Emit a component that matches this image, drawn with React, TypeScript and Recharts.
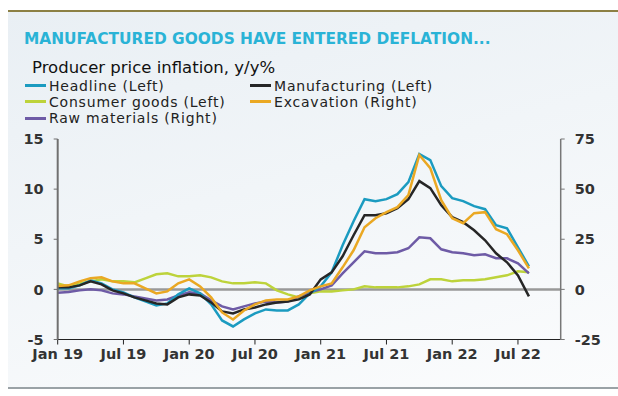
import { LineChart, Line, XAxis, YAxis, ReferenceLine } from 'recharts'

// China PPI, monthly Jan 2019 - Aug 2022
const tickLabels = ['Jan 19', 'Jul 19', 'Jan 20', 'Jul 20', 'Jan 21', 'Jul 21', 'Jan 22', 'Jul 22']
const leftTicks = [-5, 0, 5, 10, 15]
const rightTicks = [-25, 0, 25, 50, 75]

const headline = [
  0.1, 0.1, 0.4, 0.9, 0.6, 0.0, -0.3, -0.8, -1.2, -1.6, -1.4, -0.5,
  0.1, -0.4, -1.5, -3.1, -3.7, -3.0, -2.4, -2.0, -2.1, -2.1, -1.5, -0.4,
  0.3, 1.7, 4.4, 6.8, 9.0, 8.8, 9.0, 9.5, 10.7, 13.5, 12.9, 10.3,
  9.1, 8.8, 8.3, 8.0, 6.4, 6.1, 4.2, 2.3,
]
const manufacturing = [
  0.2, 0.2, 0.4, 0.8, 0.5, -0.1, -0.4, -0.8, -1.1, -1.4, -1.5, -0.8,
  -0.5, -0.6, -1.3, -2.2, -2.4, -2.0, -1.8, -1.5, -1.3, -1.2, -1.0, -0.5,
  1.0, 1.7, 3.3, 5.4, 7.4, 7.4, 7.6, 8.1, 9.0, 10.8, 10.1, 8.4,
  7.2, 6.7, 5.9, 4.9, 3.6, 2.7, 1.4, -0.7,
]
const consumerGoods = [
  0.6, 0.3, 0.6, 0.8, 1.0, 0.8, 0.8, 0.7, 1.1, 1.5, 1.6, 1.3,
  1.3, 1.4, 1.2, 0.8, 0.6, 0.6, 0.7, 0.6, -0.1, -0.5, -0.8, -0.4,
  -0.2, -0.2, -0.1, 0.0, 0.3, 0.2, 0.2, 0.2, 0.3, 0.5, 1.0, 1.0,
  0.8, 0.9, 0.9, 1.0, 1.2, 1.4, 1.8, 1.7,
]
const excavation = [
  1.7, 2, 4, 5.5, 6, 4, 3, 3, 0.5, -2, -1, 3,
  5, 1.5, -4, -11.5, -15, -10.5, -7.5, -5.5, -5, -5, -3.5, -0.5,
  1.5, 3, 11, 19.5, 31, 35.5, 38.5, 41, 47, 67, 60.5, 44.5,
  35.5, 33, 38, 38.5, 30, 27.5, 19.5, 10.5,
]
const rawMaterials = [
  -1.7, -1.3, -0.5, 0, -0.5, -2, -2.5, -3.5, -4.5, -5.5, -5, -3,
  -1.5, -2, -5.5, -8.5, -10, -8.5, -7, -6, -6.5, -6, -3.5, -1.5,
  0, 2, 8, 13.5, 19, 18, 18, 18.5, 20.5, 26, 25.5, 20,
  18.5, 18, 17, 17.5, 15.5, 15.5, 13, 8,
]

const series = [
  { key: 'headline', name: 'Headline (Left)', color: '#1b9bc0', axis: 'left', values: headline },
  { key: 'manufacturing', name: 'Manufacturing (Left)', color: '#262626', axis: 'left', values: manufacturing },
  { key: 'consumer', name: 'Consumer goods (Left)', color: '#bdd33b', axis: 'left', values: consumerGoods },
  { key: 'excavation', name: 'Excavation (Right)', color: '#eaa823', axis: 'right', values: excavation },
  { key: 'raw', name: 'Raw materials (Right)', color: '#6e5ba6', axis: 'right', values: rawMaterials },
]
const drawOrder = ['consumer', 'raw', 'headline', 'manufacturing', 'excavation']

const data = headline.map((_, i) => {
  const row: Record<string, number> = { i }
  series.forEach(s => { row[s.key] = s.values[i] })
  return row
})

const font = 'DejaVu Sans'
const tickStyle = { fontFamily: font, fontSize: 14.5, fontWeight: 700, fill: '#333' }

export default function App() {
  return (
    <div style={{ position: 'absolute', left: 0, top: 0, width: 618, height: 396, background: '#fff', overflow: 'hidden', fontFamily: font }}>
      <div style={{
        position: 'absolute', left: 8, top: 10, width: 610, height: 375,
        background: 'linear-gradient(165deg, #e9eff4 0%, #f1f5f8 45%, #fbfcfd 100%)',
        borderTop: '2px solid #8c8044', borderBottom: '2px solid #9aa2a6',
      }} />

      <svg width={618} height={80} style={{ position: 'absolute', left: 0, top: 0 }}>
        <text x={24} y={43.5} fontFamily={font} fontSize={15.4} fontWeight={700} fill="#2ab3d6">
          MANUFACTURED GOODS HAVE ENTERED DEFLATION...
        </text>
        <text x={32} y={73} fontFamily={font} fontSize={16.5} fill="#111">
          Producer price inflation, y/y%
        </text>
      </svg>

      {/* legend: two columns, tight rows like the original */}
      {series.map((s, idx) => {
        const col = idx % 2
        const row = Math.floor(idx / 2)
        return (
          <div
            key={s.key}
            style={{
              position: 'absolute', left: col === 0 ? 25 : 250, top: 77.5 + row * 16.3,
              height: 16.3, lineHeight: '16.3px', fontSize: 14, letterSpacing: 0.8,
              color: '#222', whiteSpace: 'nowrap',
            }}
          >
            <span style={{
              display: 'inline-block', width: 21, height: 3, background: s.color,
              verticalAlign: 'middle', marginRight: 3, position: 'relative', top: -1,
            }} />
            {s.name}
          </div>
        )
      })}

      <div style={{ position: 'absolute', left: 0, top: 0 }}>
        <LineChart width={618} height={396} data={data} margin={{ top: 139, right: 0, bottom: 26.5, left: 0 }}>
          <XAxis
            dataKey="i" type="number" domain={[0, 45.9]} ticks={[0, 6, 12, 18, 24, 30, 36, 42]}
            tickFormatter={v => tickLabels[v / 6]} interval={0} height={30}
            tick={tickStyle} tickSize={5} tickMargin={4}
            axisLine={{ stroke: '#222', strokeWidth: 1 }} tickLine={{ stroke: '#222' }}
          />
          <YAxis
            yAxisId="left" domain={[-5, 15]} ticks={leftTicks} width={57.7}
            tick={tickStyle} tickSize={4} tickMargin={10}
            axisLine={{ stroke: '#707070', strokeWidth: 2 }} tickLine={{ stroke: '#707070' }}
          />
          <YAxis
            yAxisId="right" orientation="right" domain={[-25, 75]} ticks={rightTicks} width={57.3}
            tick={tickStyle} tickSize={4} tickMargin={10}
            axisLine={{ stroke: '#777', strokeWidth: 1.5 }} tickLine={{ stroke: '#777' }}
          />
          <ReferenceLine yAxisId="left" y={0} stroke="#999" strokeWidth={2.5} />
          {drawOrder.map(k => {
            const s = series.find(x => x.key === k)!
            return (
              <Line
                key={k} yAxisId={s.axis} dataKey={s.key} stroke={s.color} strokeWidth={2.5}
                dot={false} type="linear" isAnimationActive={false}
              />
            )
          })}
        </LineChart>
      </div>
    </div>
  )
}
